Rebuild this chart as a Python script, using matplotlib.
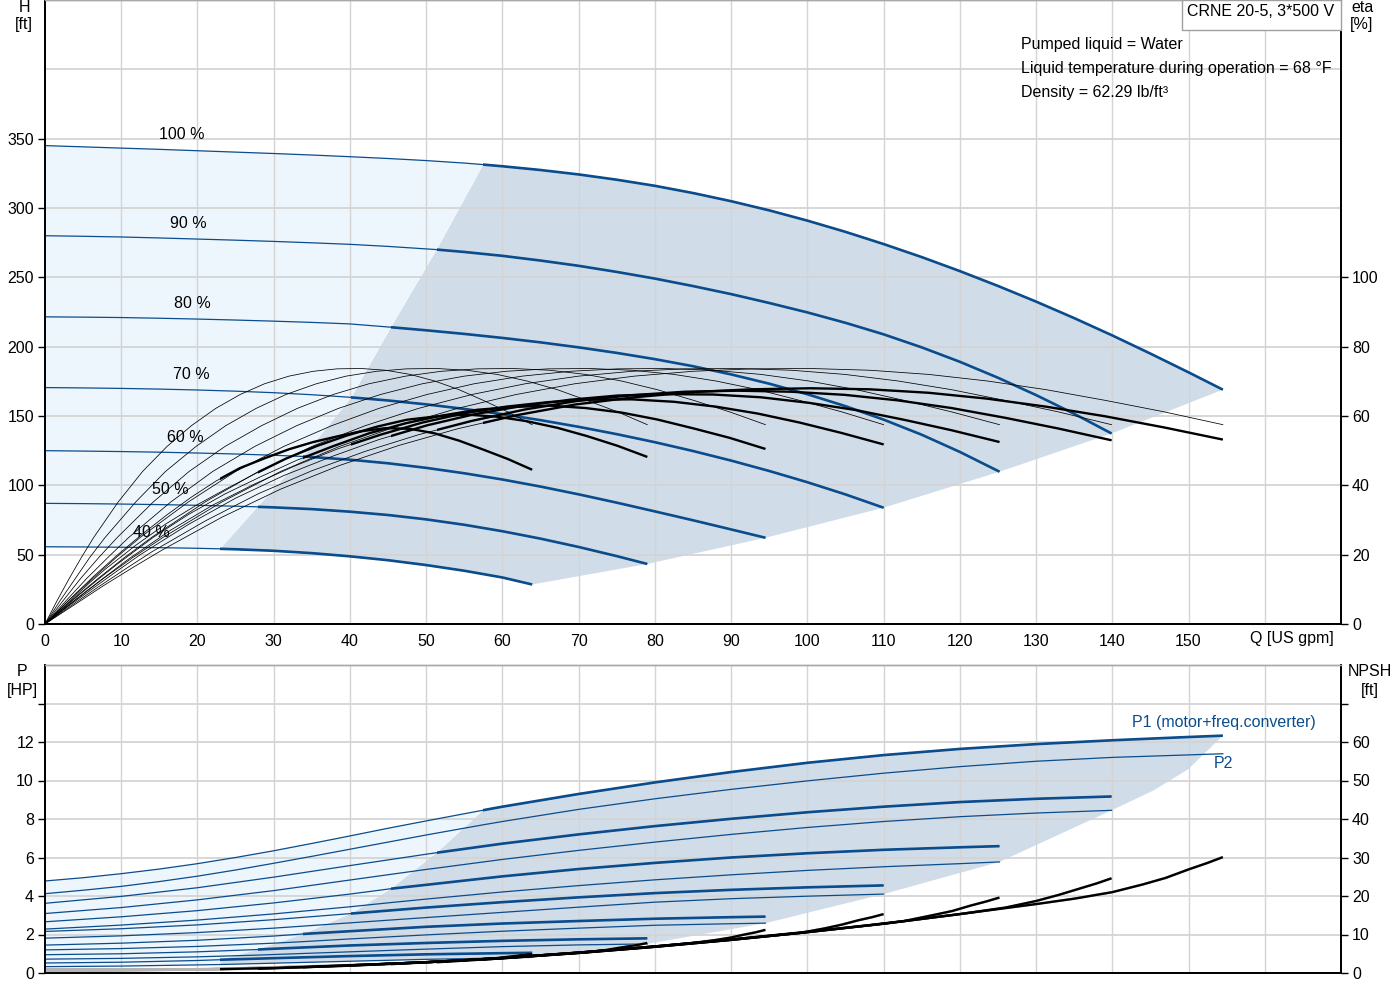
import numpy as np
import matplotlib
matplotlib.use("Agg")
import matplotlib.pyplot as plt
from matplotlib.patches import Rectangle, Polygon

plt.rcParams['font.family'] = ['Liberation Sans', 'DejaVu Sans']
plt.rcParams['font.size'] = 11.5

# ---------------- data ----------------
speeds = [100, 90, 80, 70, 60, 50, 40]
speed_labels = {100: "100 %", 90: "90 %", 80: "80 %", 70: "70 %", 60: "60 %", 50: "50 %", 40: "40 %"}
# start of the recommended (thick) range for each speed [US gpm]
q_min = {100: 57.5, 90: 51.4, 80: 45.4, 70: 40.2, 60: 33.9, 50: 27.9, 40: 23.0}

# head curves H [ft]
q_head = {
    100: [0, 5, 10, 15, 20, 25, 30, 35, 40, 45, 50, 55, 57.5, 60, 65, 70, 75, 80, 85, 90, 95, 100,
          105, 110, 115, 120, 125, 130, 135, 140, 145, 150, 154.5],
    90: [0, 5, 10, 15, 20, 25, 30, 35, 40, 45, 50, 51.4, 55, 60, 65, 70, 75, 80, 85, 90, 95, 100,
         105, 110, 115, 120, 125, 130, 135, 139.9],
    80: [0, 5, 10, 15, 20, 25, 30, 35, 40, 45, 45.4, 50, 55, 60, 65, 70, 75, 80, 85, 90, 95, 100,
         105, 110, 115, 120, 125, 125.2],
    70: [0, 5, 10, 15, 20, 25, 30, 35, 40, 40.2, 45, 50, 55, 60, 65, 70, 75, 80, 85, 90, 95, 100, 105, 110],
    60: [0, 5, 10, 15, 20, 25, 30, 33.9, 35, 40, 45, 50, 55, 60, 65, 70, 75, 80, 85, 90, 94.5],
    50: [0, 5, 10, 15, 20, 25, 27.9, 30, 35, 40, 45, 50, 55, 60, 65, 70, 75, 79],
    40: [0, 5, 10, 15, 20, 23, 25, 30, 35, 40, 45, 50, 55, 60, 63.9],
}
head = {
    100: [345.0, 344.1, 343.2, 342.3, 341.3, 340.3, 339.3, 338.2, 337.0, 335.7, 334.2, 332.4, 331.3,
          330.1, 327.4, 324.2, 320.4, 316.0, 310.8, 304.9, 298.3, 290.9, 282.8, 274.0, 264.6, 254.5,
          243.8, 232.5, 220.6, 208.1, 195.0, 181.5, 169.0],
    90: [280.0, 279.6, 279.1, 278.4, 277.6, 276.8, 275.9, 274.9, 273.8, 272.3, 270.5, 270.0, 268.3,
         265.5, 262.1, 258.3, 253.9, 249.1, 243.7, 237.9, 231.5, 224.7, 217.2, 208.9, 199.5, 189.1,
         177.6, 165.1, 151.6, 137.4],
    80: [221.5, 221.3, 221.0, 220.5, 219.9, 219.2, 218.4, 217.5, 216.4, 214.2, 214.0, 211.8, 209.2,
         206.3, 203.1, 199.5, 195.5, 191.0, 185.9, 180.0, 173.3, 165.7, 157.1, 147.4, 136.5, 124.1,
         110.4, 109.8],
    70: [170.5, 170.25, 169.9, 169.4, 168.75, 167.9, 166.8, 165.35, 163.5, 163.4, 161.2, 158.4, 155.1,
         151.3, 147.0, 142.2, 136.9, 131.1, 124.75, 117.85, 110.35, 102.25, 93.45, 83.85],
    60: [125.0, 124.7, 124.35, 123.9, 123.3, 122.6, 121.7, 120.8, 120.4, 118.5, 115.9, 112.6, 108.7,
         104.2, 99.1, 93.5, 87.5, 81.2, 74.8, 68.2, 62.2],
    50: [87.0, 86.8, 86.5, 86.1, 85.6, 84.95, 84.5, 84.1, 82.85, 81.0, 78.6, 75.45, 71.55, 66.9,
         61.55, 55.55, 48.95, 43.3],
    40: [55.7, 55.55, 55.35, 55.05, 54.6, 54.2, 53.9, 52.8, 51.1, 48.8, 46.0, 42.5, 38.4, 33.55, 28.5],
}

# efficiency curves eta [%]
q_eta = {
    100: [0, 3.9, 7.7, 11.6, 15.5, 23.2, 30.9, 38.6, 46.4, 54.1, 61.8, 69.5, 77.3, 85.0, 92.7, 100.4,
          108.2, 115.9, 123.6, 131.3, 139.1, 146.8, 154.5],
    90: [0, 3.5, 7.0, 10.5, 14.0, 21.0, 28.0, 35.0, 42.0, 49.0, 56.0, 63.0, 70.0, 77.0, 83.9, 90.9,
         97.9, 104.9, 111.9, 118.9, 125.9, 132.9, 139.9],
    80: [0, 3.1, 6.3, 9.4, 12.5, 18.8, 25.0, 31.3, 37.6, 43.8, 50.1, 56.3, 62.6, 68.9, 75.1, 81.4,
         87.6, 93.9, 100.2, 106.4, 112.7, 118.9, 125.2],
    70: [0, 2.8, 5.5, 8.3, 11.0, 16.5, 22.0, 27.5, 33.0, 38.5, 44.0, 49.5, 55.0, 60.5, 66.0, 71.5,
         77.0, 82.5, 88.0, 93.5, 99.0, 104.5, 110.0],
    60: [0, 2.4, 4.7, 7.1, 9.5, 14.2, 18.9, 23.6, 28.4, 33.1, 37.8, 42.5, 47.3, 52.0, 56.7, 61.4,
         66.2, 70.9, 75.6, 80.3, 85.1, 89.8, 94.5],
    50: [0, 2.0, 4.0, 5.9, 7.9, 11.9, 15.8, 19.8, 23.7, 27.7, 31.6, 35.6, 39.5, 43.5, 47.4, 51.4,
         55.3, 59.3, 63.2, 67.2, 71.1, 75.1, 79.0],
    40: [0, 1.6, 3.2, 4.8, 6.4, 9.6, 12.8, 16.0, 19.2, 22.4, 25.6, 28.8, 32.0, 35.2, 38.3, 41.5,
         44.7, 47.9, 51.1, 54.3, 57.5, 60.7, 63.9],
}
eta_pump = [0, 6.8, 13.2, 19.3, 25.0, 35.2, 44.0, 51.2, 57.2, 62.2, 66.2, 69.3, 71.5, 72.9, 73.6,
            73.7, 73.2, 72.0, 70.1, 67.6, 64.5, 61.2, 57.5]
eta_total = {
    100: [0, 5.6, 11.1, 16.4, 21.5, 30.8, 38.9, 45.7, 51.5, 56.3, 60.2, 63.3, 65.4, 66.9, 67.7, 68.0,
          67.7, 66.7, 65.0, 62.7, 59.9, 56.7, 53.2],
    90: [0, 5.4, 10.7, 15.8, 20.8, 29.7, 37.6, 44.2, 49.8, 54.6, 58.6, 61.9, 64.4, 66.0, 67.0, 67.3,
         67.0, 66.1, 64.5, 62.3, 59.5, 56.4, 53.0],
    80: [0, 5.2, 10.3, 15.2, 20.0, 28.7, 36.3, 42.8, 48.3, 53.2, 57.3, 60.5, 62.9, 64.7, 65.9, 66.3,
         66.2, 65.4, 63.8, 61.7, 58.9, 55.9, 52.5],
    70: [0, 4.9, 9.6, 14.3, 18.8, 27.1, 34.3, 40.4, 45.8, 50.6, 54.6, 58.1, 60.8, 62.7, 64.0, 64.7,
         64.8, 64.1, 62.7, 60.7, 58.1, 55.1, 51.8],
    60: [0, 4.5, 8.8, 13.1, 17.3, 25.0, 31.7, 37.5, 42.6, 47.3, 51.3, 55.0, 57.9, 60.1, 61.8, 62.6,
         63.0, 62.3, 61.0, 59.0, 56.4, 53.7, 50.5],
    50: [0, 4.0, 8.1, 12.0, 15.8, 22.7, 28.8, 34.2, 38.9, 43.5, 47.7, 51.3, 54.3, 56.9, 58.9, 59.9,
         60.4, 59.8, 58.5, 56.6, 54.2, 51.4, 48.2],
    40: [0, 3.5, 7.0, 10.4, 13.8, 20.1, 26.0, 31.5, 36.6, 41.2, 45.0, 47.8, 50.4, 52.5, 54.1, 55.6,
         56.5, 56.3, 55.0, 52.9, 50.3, 47.6, 44.5],
}

# power curves [HP]
q_pow = {
    100: [0, 5, 10, 15, 20, 25, 30, 35, 40, 45, 50, 57.5, 60, 70, 80, 90, 100, 110, 120, 130, 140, 150, 154.5],
    90: [0, 10, 20, 30, 40, 50, 51.4, 60, 70, 80, 90, 100, 110, 120, 130, 139.9],
    80: [0, 10, 20, 30, 40, 45.4, 50, 60, 70, 80, 90, 100, 110, 120, 125.2],
    70: [0, 10, 20, 30, 40.2, 50, 60, 70, 80, 90, 100, 110],
    60: [0, 10, 20, 30, 33.9, 40, 50, 60, 70, 80, 90, 94.5],
    50: [0, 10, 20, 27.9, 30, 40, 50, 60, 70, 79],
    40: [0, 10, 20, 23, 30, 40, 50, 60, 63.9],
}
p1 = {
    100: [4.78, 4.95, 5.16, 5.4, 5.68, 6.0, 6.35, 6.73, 7.12, 7.52, 7.9, 8.46, 8.64, 9.3, 9.9, 10.44,
          10.92, 11.32, 11.64, 11.89, 12.09, 12.26, 12.33],
    90: [3.62, 3.98, 4.43, 4.98, 5.58, 6.17, 6.25, 6.72, 7.2, 7.63, 8.01, 8.35, 8.64, 8.88, 9.05, 9.17],
    80: [2.66, 2.92, 3.24, 3.64, 4.1, 4.38, 4.58, 5.02, 5.4, 5.72, 6.0, 6.22, 6.4, 6.53, 6.59],
    70: [2.16, 2.3, 2.5, 2.77, 3.09, 3.4, 3.68, 3.93, 4.15, 4.32, 4.45, 4.55],
    60: [1.45, 1.55, 1.7, 1.92, 2.03, 2.17, 2.4, 2.57, 2.7, 2.82, 2.9, 2.93],
    50: [0.95, 1.0, 1.1, 1.22, 1.26, 1.43, 1.56, 1.67, 1.75, 1.8],
    40: [0.52, 0.56, 0.65, 0.69, 0.77, 0.88, 0.97, 1.03, 1.05],
}
p2 = {
    100: [4.12, 4.3, 4.5, 4.75, 5.03, 5.35, 5.7, 6.06, 6.43, 6.8, 7.17, 7.7, 7.87, 8.5, 9.05, 9.54,
          9.98, 10.38, 10.72, 11.0, 11.2, 11.33, 11.39],
    90: [3.09, 3.4, 3.8, 4.28, 4.83, 5.38, 5.45, 5.9, 6.37, 6.8, 7.2, 7.56, 7.87, 8.12, 8.31, 8.45],
    80: [2.28, 2.49, 2.75, 3.07, 3.44, 3.66, 3.84, 4.21, 4.54, 4.84, 5.1, 5.33, 5.52, 5.68, 5.77],
    70: [1.81, 1.93, 2.1, 2.33, 2.61, 2.88, 3.15, 3.42, 3.68, 3.86, 3.99, 4.1],
    60: [1.2, 1.27, 1.38, 1.55, 1.63, 1.77, 1.98, 2.17, 2.33, 2.48, 2.56, 2.59],
    50: [0.72, 0.76, 0.84, 0.93, 0.96, 1.1, 1.24, 1.37, 1.46, 1.51],
    40: [0.33, 0.36, 0.42, 0.44, 0.51, 0.61, 0.71, 0.78, 0.81],
}
# extra points on the right edge of the shaded power band (Q, P)
p_edge = [(150, 10.6), (145.5, 9.5)]

# NPSH curves [ft]
q_npsh = {
    100: [0, 20, 40, 57.5, 70, 80, 90, 100, 110, 120, 130, 135, 140, 144, 147, 150, 152.5, 154.5],
    90: [0, 20, 40, 51.4, 60, 70, 80, 90, 100, 110, 120, 126, 130, 133, 135.5, 138, 139.9],
    80: [0, 20, 40, 45.4, 50, 60, 70, 80, 90, 100, 108, 112.7, 116.4, 119, 121.4, 123.5, 125.2],
    70: [0, 20, 40.2, 50, 60, 70, 80, 90, 99, 102.3, 104.5, 106.7, 108.5, 110],
    60: [0, 20, 33.9, 40, 50, 60, 70, 80, 85, 87.9, 89.8, 91.7, 93.2, 94.5],
    50: [0, 20, 27.9, 40, 50, 60, 71, 73.5, 75, 76.6, 77.9, 79],
    40: [0, 20, 23, 30, 40, 50, 57.5, 59.4, 60.7, 62, 63, 63.9],
}
npsh = {
    100: [1.0, 1.0, 1.9, 3.5, 5.2, 6.8, 8.6, 10.6, 12.8, 15.3, 17.9, 19.3, 21.0, 23.0, 24.7, 26.9, 28.6, 30.1],
    90: [0.9, 0.9, 2.0, 2.8, 3.8, 5.2, 6.8, 8.6, 10.6, 12.8, 15.3, 17.0, 18.7, 20.3, 21.8, 23.3, 24.6],
    80: [0.8, 0.9, 2.1, 2.3, 2.8, 3.9, 5.3, 6.9, 8.7, 10.7, 12.4, 13.5, 15.0, 16.1, 17.5, 18.6, 19.6],
    70: [0.7, 0.9, 2.0, 2.8, 3.9, 5.3, 6.9, 8.7, 10.4, 11.6, 12.55, 13.7, 14.5, 15.3],
    60: [0.6, 0.9, 1.5, 2.0, 2.8, 3.9, 5.3, 6.9, 7.8, 8.55, 9.15, 9.97, 10.56, 11.2],
    50: [0.5, 0.9, 1.1, 1.9, 2.8, 3.9, 5.4, 5.95, 6.45, 6.95, 7.35, 7.8],
    40: [0.4, 0.9, 1.0, 1.3, 2.0, 2.8, 3.6, 3.9, 4.2, 4.5, 4.8, 5.0],
}

x_ticks = list(range(0, 160, 10))
h_ticks = list(range(0, 400, 50))
eta_ticks = [0, 20, 40, 60, 80, 100]
p_ticks = [0, 2, 4, 6, 8, 10, 12, 14]
npsh_ticks = [0, 10, 20, 30, 40, 50, 60, 70]

title_box = "CRNE 20-5, 3*500 V"
info_lines = ["Pumped liquid = Water",
              "Liquid temperature during operation = 68 \u00b0F",
              "Density = 62.29 lb/ft\u00b3"]

# ---------------- style ----------------
BLUE = '#0B4C8C'
DARK = '#D0DCE8'
LIGHT = '#EEF6FD'
GRID = '#D4D4D4'
W, H = 1400, 1000

fig = plt.figure(figsize=(14, 10), dpi=100)
ax1 = fig.add_axes([45 / W, 1 - 624 / H, 1296 / W, 624 / H])
ax2 = fig.add_axes([45 / W, 1 - 973 / H, 1296 / W, (973 - 665) / H])
ax1e = ax1.twinx()
ax2n = ax2.twinx()

ax1.set_xlim(0, 170); ax1.set_ylim(0, 450)
ax1e.set_ylim(0, 180)
ax2.set_xlim(0, 170); ax2.set_ylim(0, 16)
ax2n.set_ylim(0, 80)


def grid(ax, ys):
    for xv in range(10, 171, 10):
        ax.axvline(xv, color=GRID, lw=1.0, zorder=0.5)
    for yv in ys:
        ax.axhline(yv, color=GRID, lw=1.3, zorder=0.5)


grid(ax1, range(50, 451, 50))
grid(ax2, range(2, 17, 2))


def split_line(ax, x, y, qmin, color, lw_thin, lw_thick, thin_color=None, z=2.0):
    ax.plot(x, y, color=thin_color or color, lw=lw_thin, zorder=z,
            solid_capstyle='butt', solid_joinstyle='round')
    ln, = ax.plot(x, y, color=color, lw=lw_thick, zorder=z + 0.1,
                  solid_capstyle='butt', solid_joinstyle='round')
    ln.set_clip_path(Rectangle((qmin, -1000), 3000, 5000, transform=ax.transData))


def start_pt(qd, vd, s):
    i = qd[s].index(q_min[s])
    return (q_min[s], vd[s][i])


# ---------- top: shaded regions ----------
i100 = q_head[100].index(q_min[100])
i40 = q_head[40].index(q_min[40])
dark = list(zip(q_head[100][i100:], head[100][i100:]))
dark += [(q_head[s][-1], head[s][-1]) for s in speeds[1:]]
dark += list(zip(q_head[40][i40:-1], head[40][i40:-1]))[::-1]
dark += [start_pt(q_head, head, s) for s in speeds[::-1][:-1]]
ax1.add_patch(Polygon(dark, closed=True, facecolor=DARK, edgecolor='none', zorder=0.3))

light = list(zip(q_head[100][:i100 + 1], head[100][:i100 + 1]))
light += [start_pt(q_head, head, s) for s in speeds[1:]]
light += list(zip(q_head[40][:i40], head[40][:i40]))[::-1]
ax1.add_patch(Polygon(light, closed=True, facecolor=LIGHT, edgecolor='none', zorder=0.3))

for s in speeds:
    split_line(ax1, q_head[s], head[s], q_min[s], BLUE, 0.9, 1.9)
    ax1e.plot(q_eta[s], eta_pump, color='black', lw=0.55, zorder=2)
    split_line(ax1e, q_eta[s], eta_total[s], q_min[s], 'black', 0.55, 1.7)

label_pos = {100: (18.0, 352.8), 90: (18.8, 289), 80: (19.3, 231.3), 70: (19.2, 180.2),
             60: (18.4, 134.8), 50: (16.4, 97.3), 40: (13.9, 66.3)}
for s in speeds:
    ax1.text(*label_pos[s], speed_labels[s], ha='center', va='center', zorder=5)

# ---------- bottom: shaded regions ----------
j100 = q_pow[100].index(q_min[100])
j40 = q_pow[40].index(q_min[40])
pd_ = list(zip(q_pow[100][j100:], p1[100][j100:]))
pd_ += p_edge
pd_ += [(q_pow[s][-1], p2[s][-1]) for s in speeds[1:]]
pd_ += list(zip(q_pow[40][j40:-1], p2[40][j40:-1]))[::-1]
pd_ += [start_pt(q_pow, p1, s) for s in speeds[::-1][:-1]]
ax2.add_patch(Polygon(pd_, closed=True, facecolor=DARK, edgecolor='none', zorder=0.3))

pl_ = list(zip(q_pow[100][:j100 + 1], p1[100][:j100 + 1]))
pl_ += [start_pt(q_pow, p1, s) for s in speeds[1:]]
pl_ += list(zip(q_pow[40][:j40 + 1], p2[40][:j40 + 1]))[::-1]
ax2.add_patch(Polygon(pl_, closed=True, facecolor=LIGHT, edgecolor='none', zorder=0.3))

for s in speeds:
    ax2.plot(q_pow[s], p2[s], color=BLUE, lw=0.9, zorder=2, solid_joinstyle='round')
    split_line(ax2, q_pow[s], p1[s], q_min[s], BLUE, 0.9, 1.9)
    split_line(ax2n, q_npsh[s], npsh[s], q_min[s], 'black', 1.7, 1.7, thin_color='#B4B4B4')

# ---------- axes styling ----------
for ax in (ax1, ax2):
    ax.set_xticks(x_ticks)
    ax.tick_params(axis='x', length=0, pad=7)
ax1.set_xticklabels([str(v) for v in x_ticks])
ax2.set_xticklabels([])

ax1.set_yticks(h_ticks)
ax1.set_yticklabels([str(v) for v in h_ticks])
ax1e.set_yticks(eta_ticks)
ax1e.set_yticklabels([str(v) for v in eta_ticks])
ax2.set_yticks(p_ticks)
ax2.set_yticklabels([str(v) if v <= 12 else '' for v in p_ticks])
ax2n.set_yticks(npsh_ticks)
ax2n.set_yticklabels([str(v) if v <= 60 else '' for v in npsh_ticks])

for ax in (ax1, ax2, ax1e, ax2n):
    ax.tick_params(axis='y', direction='out', length=5, width=1, pad=3, labelsize=11.5)
    for sp in ('left', 'right', 'bottom'):
        ax.spines[sp].set_color('black')
        ax.spines[sp].set_linewidth(1.3)
    ax.spines['top'].set_color('#A8A8A8')
    ax.spines['top'].set_linewidth(1.0)

ax1.set_axisbelow(True)
ax2.set_axisbelow(True)


# ---------- texts ----------
def ftext(x, y, s, **kw):
    fig.text(x / W, 1 - y / H, s, ha='center', va='center', **kw)


ftext(24, 8, "H"); ftext(24, 25, "[ft]")
ftext(1362, 8, "eta"); ftext(1362, 25, "[%]")
ftext(22, 672, "P"); ftext(22, 690, "[HP]")
ftext(1370, 672, "NPSH"); ftext(1370, 690, "[ft]")
ftext(1292, 639, "Q [US gpm]")

fig.patches.append(Rectangle((1182 / W, 1 - 30 / H), (1341 - 1182) / W, 30 / H,
                             transform=fig.transFigure, facecolor='white',
                             edgecolor='#A0A0A0', lw=1.0, zorder=2))
ftext(1261, 12, title_box, zorder=3)
for k, line in enumerate(info_lines):
    fig.text(1021 / W, 1 - (44 + 24 * k) / H, line, ha='left', va='center')

fig.text(1132 / W, 1 - 722 / H, "P1 (motor+freq.converter)", color=BLUE, ha='left', va='center')
fig.text(1223 / W, 1 - 763 / H, "P2", color=BLUE, ha='center', va='center')

fig.savefig("out.png", dpi=100)
